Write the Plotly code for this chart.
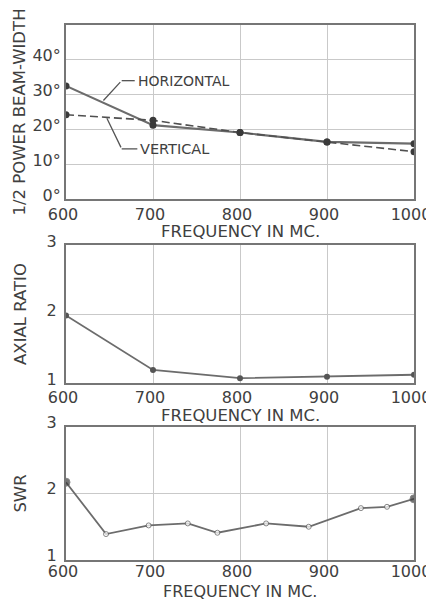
import plotly.graph_objects as go

# ---- data ----
freq = [600, 700, 800, 900, 1000]
bw_horizontal = [32.5, 21.2, 19.1, 16.4, 15.9]
bw_vertical = [24.2, 22.6, 19.1, 16.4, 13.6]
axial_ratio = [1.98, 1.19, 1.07, 1.09, 1.12]
swr_freq = [600, 646, 695, 740, 774, 830, 879, 939, 969, 1000]
swr_values = [2.17, 1.39, 1.52, 1.55, 1.41, 1.55, 1.50, 1.78, 1.80, 1.92]
x_ticks = [600, 700, 800, 900, 1000]
bw_ticks = [0, 10, 20, 30, 40]
bw_ticktext = ["0°", "10°", "20°", "30°", "40°"]
ratio_ticks = [1, 2, 3]
x_title = "FREQUENCY IN MC."

LINE = "#6c6c6c"
DOT = "#3a3a3a"
GRID = "#c9c9c9"
BORDER = "#767676"
TEXT = "#404040"
FONT = "DejaVu Sans"

fig = go.Figure()

# panel 1
fig.add_trace(go.Scatter(x=freq, y=bw_horizontal, mode="lines+markers", name="Horizontal",
                         line=dict(color=LINE, width=2.2),
                         marker=dict(color=DOT, size=7), xaxis="x", yaxis="y"))
fig.add_trace(go.Scatter(x=freq, y=bw_vertical, mode="lines+markers", name="Vertical",
                         line=dict(color="#505050", width=1.6, dash="8px,4px"),
                         marker=dict(color=DOT, size=7), xaxis="x", yaxis="y"))
# panel 2
fig.add_trace(go.Scatter(x=freq, y=axial_ratio, mode="lines+markers", name="Axial ratio",
                         line=dict(color=LINE, width=1.8),
                         marker=dict(color="#555555", size=6), xaxis="x2", yaxis="y2"))
# panel 3
swr_fill = ["#3a3a3a" if (i == 0 or i == len(swr_values) - 1) else "white" for i in range(len(swr_values))]
swr_size = [8 if (i == 0 or i == len(swr_values) - 1) else 5 for i in range(len(swr_values))]
fig.add_trace(go.Scatter(x=swr_freq, y=swr_values, mode="lines+markers", name="SWR",
                         line=dict(color=LINE, width=1.8),
                         marker=dict(color=swr_fill, size=swr_size,
                                     line=dict(color="#555555", width=1)),
                         xaxis="x3", yaxis="y3"))

axis_common = dict(showline=True, mirror=True, linewidth=2, linecolor=BORDER,
                   showgrid=True, gridcolor=GRID, gridwidth=1, zeroline=False,
                   automargin=False,
                   ticks="", tickfont=dict(family=FONT, size=16, color=TEXT))
xaxis_common = dict(axis_common, range=[600, 1000], tickvals=x_ticks, domain=[0, 1],
                    ticklabelshift=-3)
yaxis_common = dict(axis_common, ticklabelshift=-4)
ytitle_font = dict(family=FONT, size=16.5, color=TEXT)

# page body has an 8px margin: figure is sized so that it fits the 434x601 window
fig.update_layout(
    width=426, height=593,
    margin=dict(l=58, r=20, t=17, b=41),
    paper_bgcolor="white", plot_bgcolor="white",
    showlegend=False,
    xaxis=dict(xaxis_common, anchor="y", ticklabelstandoff=0),
    yaxis=dict(yaxis_common, domain=[0.6748, 1], range=[0, 50], tickvals=bw_ticks,
               ticktext=bw_ticktext, anchor="x", ticklabelstandoff=0,
               title=dict(text="1/2 POWER BEAM-WIDTH", font=ytitle_font, standoff=3)),
    xaxis2=dict(xaxis_common, anchor="y2", ticklabelstandoff=-1),
    yaxis2=dict(yaxis_common, domain=[0.3308, 0.5888], range=[1, 3], tickvals=ratio_ticks,
                anchor="x2", ticklabelstandoff=4,
                title=dict(text="AXIAL RATIO", font=ytitle_font, standoff=16)),
    xaxis3=dict(xaxis_common, anchor="y3", ticklabelstandoff=-4),
    yaxis3=dict(yaxis_common, domain=[0, 0.2486], range=[1, 3], tickvals=ratio_ticks,
                anchor="x3", ticklabelstandoff=4, ticklabelshift=-5,
                title=dict(text="SWR", font=ytitle_font, standoff=16)),
)

# x-axis titles
for ypos, fsize in ((0.6131, 16.5), (0.2710, 16.5), (-0.0589, 16)):
    fig.add_annotation(x=0.5, y=ypos, xref="paper", yref="paper", text=x_title,
                       showarrow=False, xanchor="center", yanchor="middle",
                       font=dict(family=FONT, size=fsize, color=TEXT))

# leader lines and labels
fig.add_shape(type="line", x0=664, y0=34, x1=679, y1=34, xref="x", yref="y",
              line=dict(color="#555555", width=1.3))
fig.add_annotation(x=643, y=28.3, ax=664, ay=34, axref="x", ayref="y", xref="x", yref="y",
                   text="", showarrow=True, arrowhead=0, arrowwidth=1.3, arrowcolor="#555555")
fig.add_annotation(x=680, y=34, xref="x", yref="y", text="HORIZONTAL", showarrow=False,
                   xanchor="left", font=dict(family=FONT, size=14, color=TEXT))
fig.add_shape(type="line", x0=664, y0=14.4, x1=682, y1=14.4, xref="x", yref="y",
              line=dict(color="#555555", width=1.3))
fig.add_annotation(x=647, y=23.2, ax=664, ay=14.4, axref="x", ayref="y", xref="x", yref="y",
                   text="", showarrow=True, arrowhead=0, arrowwidth=1.3, arrowcolor="#555555")
fig.add_annotation(x=683, y=14.4, xref="x", yref="y", text="VERTICAL", showarrow=False,
                   xanchor="left", font=dict(family=FONT, size=14.5, color=TEXT))

fig.write_html("out.html")
